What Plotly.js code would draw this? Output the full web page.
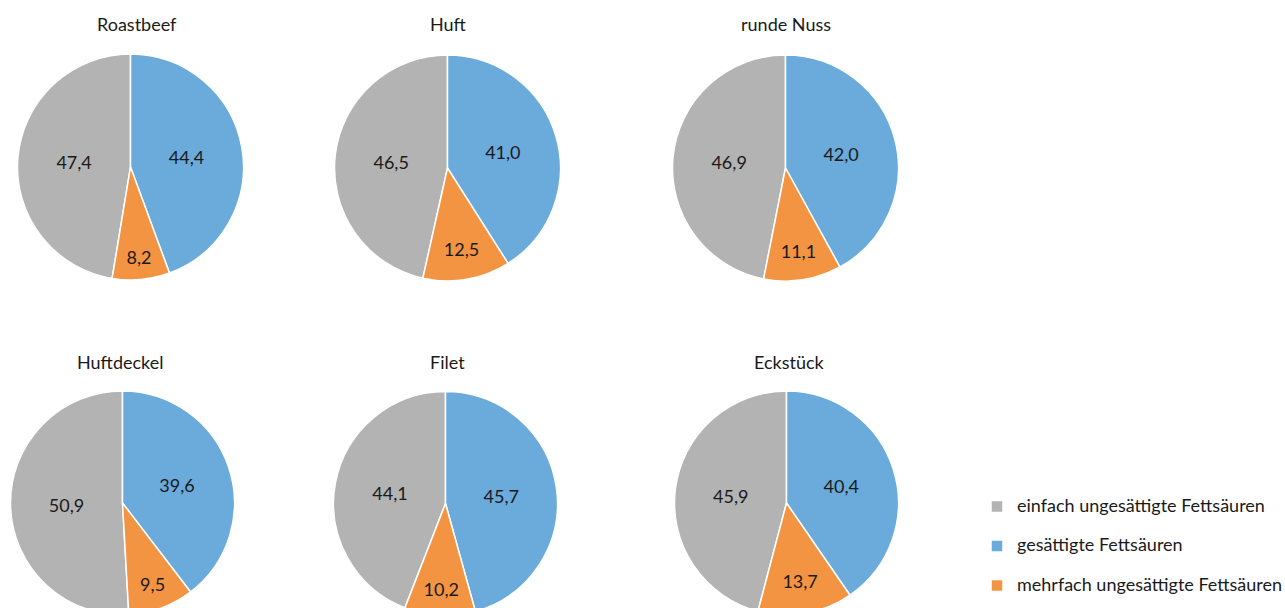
<!DOCTYPE html>
<html>
<head>
<meta charset="utf-8">
<script src="https://cdn.plot.ly/plotly-3.0.1.min.js"></script>
<style>
  html, body { margin: 0; padding: 0; background: #ffffff; overflow: hidden; }
  #chart { width: 1285px; height: 620px; }
</style>
</head>
<body>
<div id="chart"></div>
<script>
// ---- data ----
const categories = ['Roastbeef', 'Huft', 'runde Nuss', 'Huftdeckel', 'Filet', 'Eckstück'];
const seriesNames = ['einfach ungesättigte Fettsäuren', 'gesättigte Fettsäuren', 'mehrfach ungesättigte Fettsäuren'];
const einfach = [47.4, 46.5, 46.9, 50.9, 44.1, 45.9];
const gesaettigte = [44.4, 41.0, 42.0, 39.6, 45.7, 40.4];
const mehrfach = [8.2, 12.5, 11.1, 9.5, 10.2, 13.7];

// ---- layout (pixel geometry) ----
const W = 1285, H = 620;
const pieGeom = [
  {cx: 130.5, cy: 167, r: 113, tx: 137, ty: 24},
  {cx: 447.5, cy: 168, r: 113, tx: 448, ty: 24},
  {cx: 785.5, cy: 168, r: 113, tx: 786, ty: 24},
  {cx: 122.5, cy: 503, r: 112, tx: 120, ty: 362},
  {cx: 445.5, cy: 503.5, r: 112, tx: 447, ty: 362},
  {cx: 786.5, cy: 503, r: 112, tx: 789, ty: 362}
];
const colors = ['#b3b3b3', '#6aabdc', '#f29441'];
const FONT = 'Lato, "Liberation Sans", Arial, sans-serif';
const fmt = v => v.toFixed(1).replace('.', ',');

const traces = categories.map((name, i) => {
  const g = pieGeom[i];
  const vals = [einfach[i], gesaettigte[i], mehrfach[i]];
  const total = vals[0] + vals[1] + vals[2];
  return {
    type: 'pie',
    name: name,
    labels: seriesNames.map(s => '<span style="font-size:18px">' + s + '</span><br> '),
    values: vals,
    text: vals.map(fmt),
    textinfo: 'text',
    textposition: 'inside',
    insidetextorientation: 'horizontal',
    insidetextfont: {family: FONT, size: 18, color: '#1a1a1a'},
    sort: false,
    direction: 'clockwise',
    rotation: -360 * vals[0] / total,
    marker: {colors: colors, line: {color: '#ffffff', width: 1.5}},
    hoverinfo: 'skip',
    domain: {
      x: [(g.cx - g.r) / W, (g.cx + g.r) / W],
      y: [1 - (g.cy + g.r) / H, 1 - (g.cy - g.r) / H]
    }
  };
});

const annotations = categories.map((name, i) => ({
  text: name,
  x: pieGeom[i].tx / W,
  y: 1 - pieGeom[i].ty / H,
  xref: 'paper', yref: 'paper',
  xanchor: 'center', yanchor: 'middle',
  showarrow: false,
  font: {family: FONT, size: 18, color: '#1a1a1a'}
}));

const layout = {
  width: W, height: H,
  margin: {l: 0, r: 0, t: 0, b: 0, autoexpand: false},
  paper_bgcolor: '#ffffff',
  plot_bgcolor: '#ffffff',
  showlegend: true,
  legend: {
    x: 977 / W, xanchor: 'left',
    y: 1 - 491 / H, yanchor: 'top',
    font: {family: FONT, size: 14, color: '#1a1a1a'},
    valign: 'top',
    itemwidth: 30,
    bgcolor: 'rgba(0,0,0,0)',
    itemclick: false, itemdoubleclick: false
  },
  annotations: annotations
};

Plotly.newPlot('chart', traces, layout, {displayModeBar: false, staticPlot: true});
</script>
</body>
</html>
